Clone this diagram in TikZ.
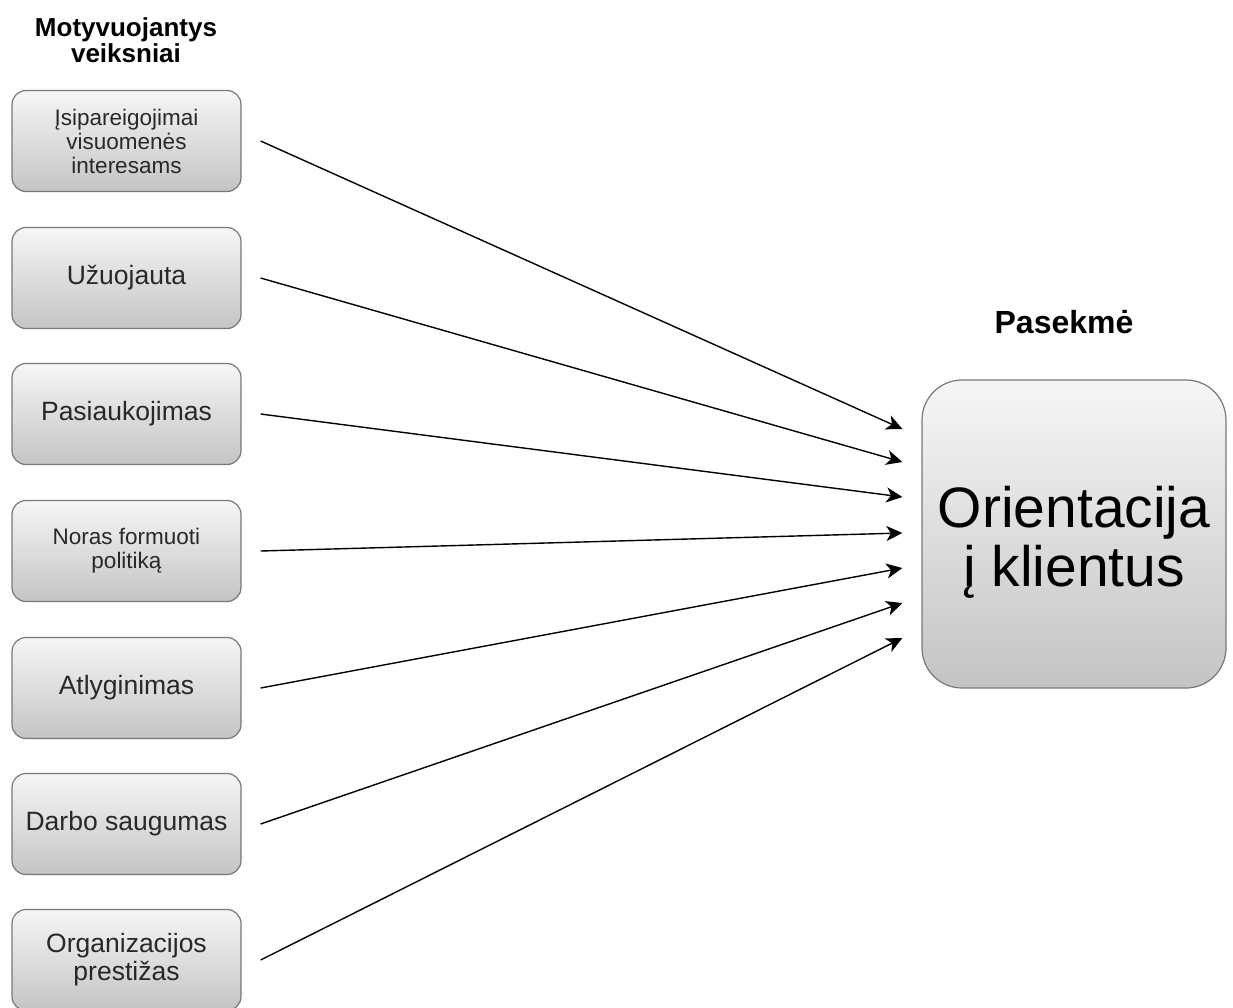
\documentclass[tikz,border=0pt]{standalone}
\usepackage{fontspec}
\setmainfont{Liberation Sans}
\usetikzlibrary{arrows.meta}
\definecolor{boxtop}{RGB}{246,246,246}
\definecolor{boxbot}{RGB}{196,196,196}
\definecolor{boxline}{RGB}{120,120,120}
\definecolor{boxtext}{RGB}{40,40,40}
\begin{document}
\begin{tikzpicture}[x=1pt,y=-1pt,
  factor/.style={rectangle, rounded corners=14pt, draw=boxline, line width=1.2pt,
    top color=boxtop, bottom color=boxbot, minimum width=229pt, minimum height=101pt,
    align=center, text=boxtext, font=\fontsize{26.5}{28}\selectfont},
  smalltext/.style={font=\fontsize{22.5}{24}\selectfont},
  heading/.style={align=center, font=\bfseries\fontsize{26}{25.5}\selectfont},
  link/.style={-{Stealth[length=16pt,width=15pt,inset=4.5pt]}, line width=1.4pt}]
\useasboundingbox (0,0) rectangle (1233,1007);
% headings
\node [heading] (hin) at (126,40) {Motyvuojantys\\veiksniai};
\node [heading, font=\bfseries\fontsize{32}{34}\selectfont] (hout) at (1064,322) {Pasekmė};
% motivating factors
\node [factor, smalltext] (m1) at (126.5,141) {Įsipareigojimai\\visuomenės\\interesams};
\node [factor] (m2) at (126.5,278) {Užuojauta};
\node [factor] (m3) at (126.5,414) {Pasiaukojimas};
\node [factor, smalltext] (m4) at (126.5,551) {Noras formuoti\\politiką};
\node [factor] (m5) at (126.5,688) {Atlyginimas};
\node [factor] (m6) at (126.5,824) {Darbo saugumas};
\node [factor] (m7) at (126.5,960) {Organizacijos\\prestižas};
% outcome
\node [factor, rounded corners=40pt, minimum width=304pt, minimum height=308pt] (out) at (1074,534) {};
\node [align=center, text=black, font=\fontsize{57}{59}\selectfont] (outtext)
  at ([yshift=-8pt]out.center) {Orientacija\\į klientus};
% links
\draw [link] ([xshift=19pt]m1.east) -- ([xshift=-19pt,yshift=105pt]out.west);
\draw [link] ([xshift=19pt]m2.east) -- ([xshift=-19pt,yshift=72pt]out.west);
\draw [link] ([xshift=19pt]m3.east) -- ([xshift=-19pt,yshift=37pt]out.west);
\draw [link] ([xshift=19pt]m4.east) -- ([xshift=-19pt,yshift=1pt]out.west);
\draw [link] ([xshift=19pt]m5.east) -- ([xshift=-19pt,yshift=-34pt]out.west);
\draw [link] ([xshift=19pt]m6.east) -- ([xshift=-19pt,yshift=-69pt]out.west);
\draw [link] ([xshift=19pt]m7.east) -- ([xshift=-19pt,yshift=-104pt]out.west);
\end{tikzpicture}
\end{document}
